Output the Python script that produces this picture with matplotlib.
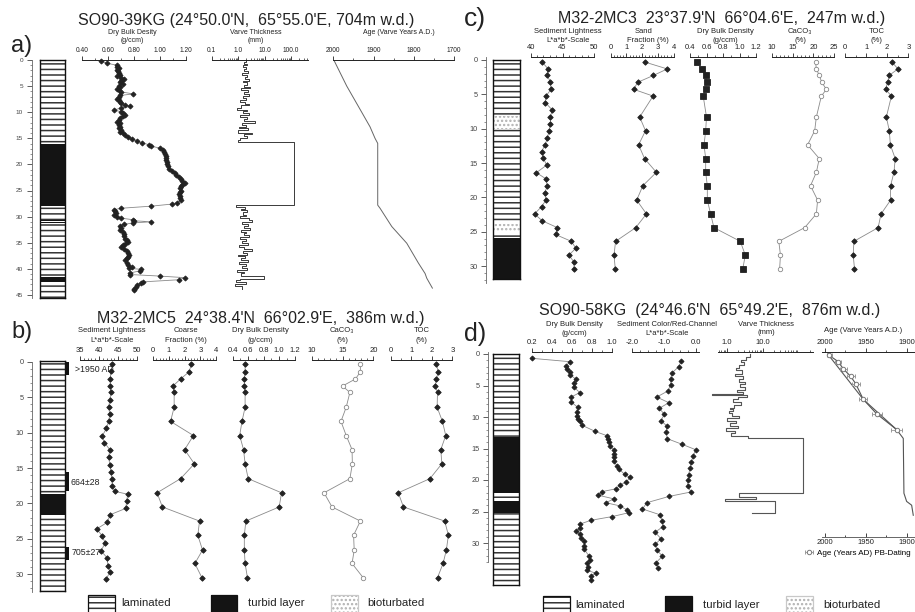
import numpy as np
import matplotlib
matplotlib.use("Agg")
import matplotlib.pyplot as plt
from matplotlib.patches import Rectangle
from matplotlib.ticker import MultipleLocator, LogLocator, NullFormatter
from matplotlib.transforms import blended_transform_factory

plt.rcParams['font.family'] = ['Liberation Sans', 'DejaVu Sans']
plt.rcParams['hatch.linewidth'] = 1.1

W, H = 915, 612
INK = '#222222'
LINE = '#8a8a8a'

# ---------------- a) SO90-39KG ----------------
a_dbd_depth = [0.19, 0.64, 1.0, 1.3, 1.6, 1.9, 2.2, 2.5, 2.8, 3.1, 3.4, 3.7, 4.0, 4.3, 4.6, 4.9,
               5.2, 5.5, 5.8, 6.1, 6.5, 6.8, 7.1, 7.4, 7.7, 8.0, 8.3, 8.6, 8.9, 9.2, 9.6, 9.9,
               10.2, 10.5, 10.8, 11.1, 11.5, 11.8, 12.1, 12.4, 12.8, 13.1, 13.4, 13.7, 14.0,
               14.4, 14.8, 15.1, 15.5, 15.9, 16.2, 16.5, 16.9, 17.2, 17.6, 18.0, 18.4, 18.8,
               19.2, 19.6, 20.0, 20.4, 20.8, 21.2, 21.6, 22.0, 22.4, 22.8, 23.2, 23.5, 23.9,
               24.2, 24.6, 25.0, 25.3, 25.7, 26.1, 26.5, 26.9, 27.3, 27.6, 28.0, 28.4, 28.7,
               29.0, 29.3, 29.7, 30.0, 30.3, 30.6, 30.8, 31.0, 31.2, 31.5, 31.8, 32.2, 32.6,
               33.0, 33.4, 33.8, 34.2, 34.5, 34.8, 35.2, 35.5, 35.9, 36.3, 36.6, 36.9, 37.3,
               37.7, 38.0, 38.4, 38.8, 39.2, 39.6, 39.9, 40.1, 40.4, 40.8, 41.1, 41.4, 41.7,
               42.1, 42.5, 42.8, 43.1, 43.4, 43.8, 44.1]
a_dbd = [0.54, 0.59, 0.67, 0.665, 0.68, 0.67, 0.675, 0.68, 0.69, 0.67, 0.70, 0.72, 0.70, 0.69,
         0.71, 0.68, 0.69, 0.67, 0.68, 0.70, 0.79, 0.69, 0.68, 0.67, 0.68, 0.69, 0.70, 0.73,
         0.77, 0.70, 0.64, 0.70, 0.71, 0.73, 0.71, 0.69, 0.68, 0.67, 0.69, 0.68, 0.69, 0.68,
         0.70, 0.69, 0.71, 0.73, 0.75, 0.78, 0.82, 0.86, 0.91, 0.93, 1.00, 1.02, 1.03, 1.035,
         1.04, 1.045, 1.04, 1.05, 1.05, 1.06, 1.07, 1.09, 1.11, 1.12, 1.14, 1.16, 1.17, 1.19,
         1.17, 1.16, 1.155, 1.16, 1.15, 1.14, 1.155, 1.15, 1.16, 1.13, 1.09, 0.93, 0.70, 0.64,
         0.65, 0.66, 0.64, 0.67, 0.70, 0.79, 0.80, 0.93, 0.79, 0.72, 0.69, 0.70, 0.69, 0.71,
         0.72, 0.72, 0.73, 0.74, 0.75, 0.73, 0.71, 0.70, 0.72, 0.74, 0.75, 0.76, 0.755, 0.74,
         0.73, 0.74, 0.75, 0.78, 0.76, 0.85, 0.84, 0.77, 0.77, 1.00, 1.19, 1.14, 0.87, 0.85,
         0.82, 0.81, 0.80, 0.80]

# varve thickness as step intervals: bounds (cm) and thickness (mm)
a_varve_bounds = [0.0, 0.3, 0.7, 1.0, 1.4, 1.8, 2.1, 2.5, 2.9, 3.2, 3.6, 4.0, 4.3, 4.7, 5.1, 5.4,
                  5.8, 6.2, 6.5, 6.9, 7.3, 7.6, 8.0, 8.4, 8.7, 9.1, 9.5, 9.8, 10.2, 10.6, 10.9,
                  11.3, 11.7, 12.0, 12.4, 12.8, 13.1, 13.5, 13.9, 14.2, 14.6, 15.0, 15.3, 15.8,
                  27.8, 28.1, 28.5, 28.8, 29.2, 29.6, 29.9, 30.3, 30.7, 31.0, 31.4, 31.8, 32.1,
                  32.5, 32.9, 33.2, 33.6, 34.0, 34.3, 34.7, 35.1, 35.4, 35.8, 36.2, 36.5, 36.9,
                  37.3, 37.6, 38.0, 38.4, 38.7, 39.1, 39.5, 39.8, 40.2, 40.6, 40.9, 41.3, 41.9,
                  42.2, 42.6, 42.9, 43.3, 43.8]
a_varve_mm = [1.9, 1.6, 2.2, 1.5, 2.0, 1.7, 2.4, 1.4, 2.1, 1.8, 2.6, 1.5, 2.2, 1.6, 2.8, 1.3,
              2.3, 1.7, 2.5, 1.5, 2.0, 1.2, 1.8, 2.6, 1.3, 0.92, 2.1, 1.5, 2.5, 1.2, 2.2, 1.6,
              4.3, 1.4, 2.0, 1.1, 2.4, 0.95, 3.3, 1.6, 2.2, 1.2, 0.95,
              133.0,
              0.85, 1.8, 1.3, 2.2, 1.5, 1.9, 1.2, 2.6, 3.4, 1.4, 2.3, 1.6, 2.9, 1.3, 2.0, 1.6,
              2.5, 1.2, 1.9, 1.4, 2.3, 1.1, 1.7, 3.4, 1.5, 2.1, 1.0, 1.8, 1.3, 2.4, 1.1, 1.9,
              1.4, 2.2, 0.9, 1.7, 1.3, 9.3, 1.2, 0.8, 1.9, 0.75, 1.4]

a_age_depth = [0.19, 4.98, 10.0, 12.8, 15.0, 15.97, 27.8, 28.4, 31.9, 35.1, 38.9, 40.9, 41.8, 43.7]
a_age_year = [1997.5, 1966.7, 1929.4, 1908.7, 1896.3, 1889.6, 1889.6, 1883.8, 1854.7, 1817.4,
              1788.5, 1771.9, 1767.7, 1753.7]

a_litho = [(0.0, 16.0, 'lam'), (16.0, 27.9, 'turb'), (27.9, 30.6, 'lam'), (30.6, 30.85, 'turb'),
           (30.85, 31.0, 'lam'), (31.0, 31.25, 'turb'), (31.25, 41.5, 'lam'),
           (41.5, 42.5, 'turb'), (42.5, 45.6, 'lam')]

# ---------------- b) M32-2MC5 ----------------
b_l_depth = [0.33, 1.3, 2.4, 3.4, 4.3, 5.4, 6.4, 7.4, 8.4, 9.4, 10.5, 11.4, 12.4, 13.5, 14.5,
             15.5, 16.6, 17.6, 18.3, 18.7, 19.7, 20.7, 21.6, 22.7, 23.6, 24.6, 25.6, 26.7,
             27.7, 28.8, 29.7, 30.7]
b_lightness = [43.5, 43.1, 42.9, 42.9, 43.1, 42.8, 42.5, 42.8, 42.5, 41.9, 40.8, 41.4, 42.8,
               42.5, 42.8, 43.1, 43.3, 43.5, 44.1, 47.5, 47.2, 47.0, 42.9, 42.1, 39.4, 40.8,
               41.6, 40.5, 42.1, 42.3, 42.9, 41.8]
b_depth = [0.33, 1.4, 2.4, 3.4, 4.3, 6.4, 8.4, 10.4, 12.4, 14.4, 16.5, 18.5, 20.5, 22.5, 24.5,
           26.6, 28.5, 30.5]
b_coarse = [2.43, 2.28, 1.74, 1.25, 1.33, 1.33, 1.1, 2.56, 2.0, 2.62, 1.74, 0.24, 0.58, 2.95,
            2.84, 3.14, 2.65, 3.1]
b_dbd = [0.56, 0.56, 0.55, 0.55, 0.56, 0.56, 0.52, 0.49, 0.54, 0.56, 0.60, 1.03, 1.00, 0.57,
         0.55, 0.55, 0.56, 0.59]
b_caco3 = [17.9, 17.9, 17.1, 15.0, 16.2, 15.6, 14.75, 15.6, 16.55, 16.6, 16.2, 12.0, 13.3,
           17.9, 16.8, 16.9, 16.55, 18.35]
b_toc = [2.23, 2.31, 2.23, 2.17, 2.28, 2.26, 2.52, 2.68, 2.44, 2.49, 1.91, 0.37, 0.62, 2.63,
         2.81, 2.71, 2.55, 2.28]
b_litho = [(0.0, 18.7, 'lam'), (18.7, 21.7, 'turb'), (21.7, 32.5, 'lam')]
b_dates = [(0.0, 1.9, 1.0, '>1950 AD'), (15.6, 18.3, 17.1, '664±28'), (26.1, 28.0, 27.0, '705±27')]

# ---------------- c) M32-2MC3 ----------------
c_l_depth = [0.29, 1.26, 2.2, 3.25, 4.27, 5.24, 6.2, 7.28, 8.25, 9.27, 10.33, 11.35, 12.3,
             13.34, 14.3, 15.3, 16.4, 17.3, 18.3, 19.4, 20.4, 21.35, 22.4, 23.4, 24.4, 25.4,
             26.4, 27.4, 28.4, 29.4, 30.4]
c_lightness = [41.8, 42.7, 42.6, 43.1, 43.2, 42.4, 42.3, 43.4, 43.1, 43.1, 42.9, 42.6, 42.3,
               41.7, 42.0, 42.5, 40.9, 42.4, 42.6, 42.2, 42.4, 41.7, 40.6, 41.8, 44.2, 43.9,
               46.4, 47.1, 46.0, 46.8, 46.8]
c_depth = [0.3, 1.3, 2.25, 3.25, 4.27, 5.25, 8.3, 10.3, 12.35, 14.35, 16.35, 18.3, 20.4, 22.4,
           24.4, 26.4, 28.4, 30.4]
c_sand = [2.17, 3.59, 2.71, 1.71, 1.46, 2.69, 1.84, 2.21, 1.77, 2.15, 2.9, 2.04, 1.65, 2.27,
          1.59, 0.31, 0.21, 0.29]
c_dbd = [0.48, 0.54, 0.59, 0.60, 0.59, 0.56, 0.60, 0.59, 0.57, 0.59, 0.59, 0.61, 0.61, 0.65,
         0.69, 1.01, 1.07, 1.04]
c_caco3 = [20.5, 20.7, 21.4, 22.0, 23.1, 21.9, 20.7, 20.3, 18.6, 21.4, 20.7, 19.3, 21.0, 20.7,
           17.9, 11.7, 12.1, 11.9]
c_toc = [2.23, 2.51, 2.09, 2.02, 1.92, 2.2, 1.96, 2.10, 2.15, 2.38, 2.32, 2.16, 2.16, 1.71,
         1.57, 0.42, 0.39, 0.45]
c_litho = [(0.0, 8.1, 'lam'), (8.1, 10.0, 'bio'), (10.0, 23.9, 'lam'), (23.9, 25.0, 'bio'),
           (25.0, 25.9, 'lam'), (25.9, 32.0, 'turb')]

# ---------------- d) SO90-58KG ----------------
d_dbd_depth = [0.69, 1.22, 1.9, 2.38, 2.9, 3.33, 3.97, 4.55, 5.19, 6.14, 6.83, 7.62, 8.46, 9.16,
               9.84, 10.3, 10.7, 11.3, 12.3, 12.97, 13.5, 14.0, 14.6, 15.2, 15.8, 16.4, 17.0,
               17.7, 18.2, 19.1, 19.6, 20.3, 20.8, 21.4, 21.86, 22.4, 23.0, 23.6, 24.1, 24.7,
               25.2, 25.8, 26.4, 27.0, 27.6, 28.1, 28.6, 29.2, 29.7, 30.4, 31.0, 32.0, 32.7,
               33.2, 33.8, 34.3, 34.8, 35.2, 35.8]
d_dbd = [0.2, 0.577, 0.54, 0.547, 0.58, 0.583, 0.637, 0.617, 0.617, 0.678, 0.59, 0.593, 0.657,
         0.647, 0.647, 0.657, 0.678, 0.70, 0.835, 0.953, 0.966, 0.976, 0.98, 1.023, 1.023,
         1.023, 1.023, 1.05, 1.07, 1.13, 1.185, 1.147, 1.084, 1.04, 0.9, 0.86, 1.023, 0.94,
         1.08, 1.15, 1.17, 1.006, 0.79, 0.68, 0.684, 0.643, 0.678, 0.694, 0.724, 0.724, 0.724,
         0.768, 0.778, 0.754, 0.764, 0.748, 0.839, 0.79, 0.79]
d_col_depth = [1.16, 2.0, 3.07, 4.02, 4.87, 5.87, 6.83, 7.73, 8.62, 9.58, 10.58, 11.43, 12.4,
               13.44, 14.3, 15.2, 16.2, 17.2, 18.1, 19.2, 20.0, 20.9, 21.9, 22.6, 23.6, 24.6,
               25.5, 26.5, 27.4, 28.3, 29.3, 30.2, 31.1, 32.1, 33.1, 34.0]
d_color = [-0.46, -0.54, -0.76, -0.79, -0.79, -0.88, -1.23, -0.85, -1.15, -0.99, -1.10, -0.91,
           -0.93, -0.90, -0.45, 0.0, -0.09, -0.14, -0.18, -0.23, -0.25, -0.26, -0.15, -0.84,
           -1.54, -1.68, -1.14, -1.05, -1.04, -1.28, -1.10, -1.27, -1.23, -1.05, -1.25, -1.18]
d_varve_bounds = [0.0, 0.5, 0.9, 1.3, 1.8, 2.2, 2.6, 3.1, 3.5, 3.9, 4.4, 4.8, 5.2, 5.7, 6.1,
                  6.3, 6.5, 6.8, 7.2, 7.6, 8.1, 8.5, 8.8, 9.1, 9.4, 9.8, 10.2, 10.6, 11.0, 11.4,
                  11.8, 12.2, 12.6, 13.0, 13.4, 22.1, 22.75, 23.07, 23.4, 25.3, 25.3]
d_varve_mm = [4.4, 3.3, 2.5, 3.0, 2.2, 1.8, 2.6, 1.7, 2.8, 2.1, 3.1, 2.3, 3.2, 1.9, 2.7, 0.37,
              3.5, 2.0, 1.5, 2.4, 1.6, 1.2, 1.5, 1.1, 1.4, 2.1, 1.0, 1.8, 1.2, 2.0, 0.95, 1.7,
              1.3, 3.9, 128.0, 2.2, 6.3, 0.88, 21.5, 5.0]
d_age_depth = [0.0, 7.2, 12.0, 13.4, 22.1, 23.4, 24.0, 25.6]
d_age_year = [1996.7, 1953.3, 1912.6, 1904.5, 1903.7, 1900.4, 1894.3, 1892.3]
d_pb_depth = [0.2, 1.2, 2.35, 3.55, 4.7, 7.2, 9.5, 12.0]
d_pb_year = [1995.0, 1984.0, 1977.7, 1968.7, 1962.6, 1953.3, 1937.0, 1912.6]
d_pb_err = [3, 4, 4, 5, 5, 5, 6, 7]
d_litho = [(0.0, 13.1, 'lam'), (13.1, 22.1, 'turb'), (22.1, 23.4, 'lam'), (23.4, 25.3, 'turb'),
           (25.3, 36.8, 'lam')]

titles = {'a': "SO90-39KG (24°50.0'N,  65°55.0'E, 704m w.d.)",
          'b': "M32-2MC5  24°38.4'N  66°02.9'E,  386m w.d.)",
          'c': "M32-2MC3  23°37.9'N  66°04.6'E,  247m w.d.)",
          'd': "SO90-58KG  (24°46.6'N  65°49.2'E,  876m w.d.)"}
legend_names = ['laminated', 'turbid layer', 'bioturbated']

# ---------------- layout helpers ----------------
fig = plt.figure(figsize=(W / 100, H / 100), dpi=100)

A = dict(zero=60, k=5.22, top=60, bottom=298)
B = dict(zero=362, k=7.07, top=360, bottom=592)
C = dict(zero=60, k=6.87, top=57, bottom=285)
D = dict(zero=354, k=6.3, top=352, bottom=590)

STYLES = {'lam': dict(facecolor='white', edgecolor='#333333', hatch='---', lw=0),
          'turb': dict(facecolor='#141414', edgecolor='#141414', lw=0),
          'bio': dict(facecolor='white', edgecolor='#b0b0b0', hatch='....', lw=0)}


def box(x0, x1, y0, y1):
    return fig.add_axes([x0 / W, 1 - y1 / H, (x1 - x0) / W, (y1 - y0) / H])


def set_depth(ax, core, y0, y1):
    ax.set_ylim((y1 - core['zero']) / core['k'], (y0 - core['zero']) / core['k'])


def bare(ax):
    ax.patch.set_visible(False)
    for s in ax.spines.values():
        s.set_visible(False)


def track(core, x0, x1, xlim, ticks, labels, minor, log=False, size=5.5, y1=None):
    y1 = core['bottom'] if y1 is None else y1
    ax = box(x0, x1, core['top'], y1)
    set_depth(ax, core, core['top'], y1)
    if log:
        ax.set_xscale('log')
    ax.set_xlim(*xlim)
    bare(ax)
    ax.spines['top'].set_visible(True)
    ax.spines['top'].set_color(INK)
    ax.spines['top'].set_linewidth(0.7)
    ax.xaxis.tick_top()
    ax.set_xticks(ticks, labels)
    if log:
        ax.xaxis.set_minor_locator(LogLocator(base=10, subs=np.arange(2, 10), numticks=50))
    else:
        ax.xaxis.set_minor_locator(MultipleLocator(minor))
    ax.xaxis.set_minor_formatter(NullFormatter())
    ax.tick_params(axis='x', which='major', direction='out', length=2.8, width=0.6, pad=1.2,
                   labelsize=size, colors=INK)
    ax.tick_params(axis='x', which='minor', direction='out', length=1.6, width=0.5, colors=INK)
    ax.set_yticks([])
    return ax


def dots(ax, x, y, marker='D', ms=2.8, mfc=INK, mec=INK):
    ax.plot(x, y, color=LINE, lw=0.6, marker=marker, ms=ms, mfc=mfc, mec=mec, mew=0.6,
            clip_on=False)


def steps(ax, bounds, vals, color='#444444', lw=0.7):
    xs, ys = [], []
    for i, v in enumerate(vals):
        xs += [v, v]
        ys += [bounds[i], bounds[i + 1]]
    ax.plot(xs, ys, color=color, lw=lw, clip_on=False)


def depth_axis(core, x, y0, y1, maxd, size):
    ax = box(x, x + 1, y0, y1)
    set_depth(ax, core, y0, y1)
    bare(ax)
    ax.spines['left'].set_visible(True)
    ax.spines['left'].set_color('#666666')
    ax.spines['left'].set_linewidth(0.6)
    ax.set_xticks([])
    ticks = list(range(0, maxd + 1, 5))
    ax.set_yticks(ticks, [str(t) for t in ticks])
    ax.yaxis.set_minor_locator(MultipleLocator(1))
    ax.tick_params(axis='y', which='major', length=3.6, width=0.6, pad=2.5, labelsize=size,
                   colors='#444444')
    ax.tick_params(axis='y', which='minor', length=1.8, width=0.5, colors='#666666')


def litho(core, x0, x1, y0, y1, layers):
    ax = box(x0, x1, y0, y1)
    set_depth(ax, core, y0, y1)
    ax.set_xlim(0, 1)
    for top, bot, kind in layers:
        ax.axhspan(top, bot, **STYLES[kind])
    ax.set_xticks([])
    ax.set_yticks([])
    for s in ax.spines.values():
        s.set_color('#111111')
        s.set_linewidth(1.0)
    return ax


def label(x, y, s, size=5.5, **kw):
    fig.text(x / W, 1 - y / H, s, ha='center', va='center', fontsize=size, color=INK, **kw)


def legend_row(xs, y0, y1):
    kinds = ['lam', 'turb', 'bio']
    for (bx0, bx1, tx), kind, name in zip(xs, kinds, legend_names):
        st = dict(STYLES[kind])
        st.pop('lw')
        r = Rectangle((bx0 / W, 1 - y1 / H), (bx1 - bx0) / W, (y1 - y0) / H,
                      transform=fig.transFigure, lw=0, **st)
        fig.add_artist(r)
        edge = '#111111' if kind != 'bio' else '#c8c8c8'
        fig.add_artist(Rectangle((bx0 / W, 1 - y1 / H), (bx1 - bx0) / W, (y1 - y0) / H,
                                 transform=fig.transFigure, fill=False, lw=0.9,
                                 edgecolor=edge))
        fig.text(tx / W, 1 - (y0 + 8.5) / H, name, ha='left', va='center', fontsize=8.2,
                 color=INK)


# ---------------- panel a ----------------
fig.text(22 / W, 1 - 46 / H, 'a)', ha='center', va='center', fontsize=17, color=INK)
label(246, 20, titles['a'], size=11.5)
depth_axis(A, 31.7, 60, 298, 45, 4.6)
litho(A, 40, 65, 60, 298, a_litho)

ax = track(A, 82.3, 186.3, (0.4, 1.2), [0.4, 0.6, 0.8, 1.0, 1.2],
           ['0.40', '0.60', '0.80', '1.00', '1.20'], 0.1, size=4.8)
dots(ax, a_dbd, a_dbd_depth, ms=2.6)
label(132.5, 32, 'Dry Bulk Desity', 5)
label(132.5, 41, '(g/ccm)', 5)

ax = track(A, 211.7, 308.3, (0.1, 442), [0.1, 1, 10, 100], ['0.1', '1.0', '10.0', '100.0'],
           None, log=True, size=4.8)
steps(ax, a_varve_bounds, a_varve_mm, color='#3a3a3a', lw=0.7)
label(255.5, 32, 'Varve Thickness', 5)
label(255.5, 40.5, '(mm)', 5)

ax = track(A, 333.3, 454, (2000, 1700), [2000, 1900, 1800, 1700],
           ['2000', '1900', '1800', '1700'], 50, size=4.8)
ax.plot(a_age_year, a_age_depth, color='#666666', lw=0.7)
label(399, 32, 'Age (Varve Years A.D.)', 5)

# ---------------- panel b ----------------
fig.text(22 / W, 1 - 332 / H, 'b)', ha='center', va='center', fontsize=17, color=INK)
label(261, 319, titles['b'], size=11.5)
depth_axis(B, 32, 362, 592, 30, 5.3)
litho(B, 40, 65, 361, 591, b_litho)
tab = box(65, 69.3, 361, 591)
set_depth(tab, B, 361, 591)
bare(tab)
tab.set_xticks([])
tab.set_yticks([])
tr = blended_transform_factory(fig.transFigure, tab.transData)
for (top, bot, mid, txt), tx in zip(b_dates, [75, 70.7, 71.5]):
    tab.axhspan(top, bot, color='#111111', lw=0)
    tab.text(tx / W, mid, txt, transform=tr, ha='left', va='center', fontsize=6.3,
             color=INK)

ax = track(B, 80, 137.3, (35, 50), [35, 40, 45, 50], ['35', '40', '45', '50'], 1)
dots(ax, b_lightness, b_l_depth)
label(111.7, 330.7, 'Sediment Lightness')
label(111.7, 340.7, 'L*a*b*-Scale')

ax = track(B, 153.3, 216, (0, 4), [0, 1, 2, 3, 4], ['0', '1', '2', '3', '4'], 0.2)
dots(ax, b_coarse, b_depth)
label(186, 330.7, 'Coarse')
label(186, 340.7, 'Fraction (%)')

ax = track(B, 232.7, 294.7, (0.4, 1.2), [0.4, 0.6, 0.8, 1.0, 1.2],
           ['0.4', '0.6', '0.8', '1.0', '1.2'], 0.1)
dots(ax, b_dbd, b_depth)
label(260.5, 330.7, 'Dry Bulk Density')
label(260.5, 340.7, '(g/ccm)')

ax = track(B, 311.7, 373.3, (10, 20), [10, 15, 20], ['10', '15', '20'], 1)
dots(ax, b_caco3, b_depth, marker='o', ms=3.2, mfc='white', mec='#888888')
label(342, 330.7, 'CaCO₃')
label(342, 340.7, '(%)')

ax = track(B, 390.7, 452.3, (0, 3), [0, 1, 2, 3], ['0', '1', '2', '3'], 0.5)
dots(ax, b_toc, b_depth)
label(421.7, 330.7, 'TOC')
label(421.7, 340.7, '(%)')

# ---------------- panel c ----------------
fig.text(475 / W, 1 - 19 / H, 'c)', ha='center', va='center', fontsize=19, color=INK)
label(722, 19, titles['c'], size=11.5)
depth_axis(C, 486, 57, 283, 30, 5.3)
litho(C, 493, 520, 60, 279, c_litho)

ax = track(C, 530.7, 594.3, (40, 50), [40, 45, 50], ['40', '45', '50'], 1)
dots(ax, c_lightness, c_l_depth)
label(568, 31.7, 'Sediment Lightness')
label(568, 40.3, 'L*a*b*-Scale')

ax = track(C, 610.7, 673.7, (0, 4), [0, 1, 2, 3, 4], ['0', '1', '2', '3', '4'], 0.2)
dots(ax, c_sand, c_depth)
label(644, 31.7, 'Sand')
label(648, 40.3, 'Fraction (%)')

ax = track(C, 690, 756, (0.4, 1.2), [0.4, 0.6, 0.8, 1.0, 1.2],
           ['0.4', '0.6', '0.8', '1.0', '1.2'], 0.1)
dots(ax, c_dbd, c_depth, marker='s', ms=4.2)
label(725, 31.7, 'Dry Bulk Density')
label(725, 40.3, '(g/ccm)')

ax = track(C, 771.7, 834.3, (10, 25), [10, 15, 20, 25], ['10', '15', '20', '25'], 1)
dots(ax, c_caco3, c_depth, marker='o', ms=3.2, mfc='white', mec='#888888')
label(800, 31.7, 'CaCO₃')
label(800, 40.3, '(%)')

ax = track(C, 845, 908.3, (0, 3), [0, 1, 2, 3], ['0', '1', '2', '3'], 0.5)
dots(ax, c_toc, c_depth)
label(876.7, 31.7, 'TOC')
label(876.7, 40.3, '(%)')

# ---------------- panel d ----------------
fig.text(475 / W, 1 - 334 / H, 'd)', ha='center', va='center', fontsize=18, color=INK)
label(710, 311, titles['d'], size=11.5)
depth_axis(D, 488, 352, 562, 30, 5.3)
litho(D, 493, 519, 354, 585, d_litho)

ax = track(D, 532.3, 611.7, (0.2, 1.0), [0.2, 0.4, 0.6, 0.8, 1.0],
           ['0.2', '0.4', '0.6', '0.8', '1.0'], 0.1)
dots(ax, d_dbd, d_dbd_depth, ms=2.6)
label(574, 324, 'Dry Bulk Density')
label(574, 333.3, '(g/ccm)')

ax = track(D, 632.3, 699, (-2.0, 0.1), [-2.0, -1.0, 0.0], ['-2.0', '-1.0', '0.0'], 0.25)
dots(ax, d_color, d_col_depth, ms=2.6)
label(666.7, 324, 'Sediment Color/Red-Channel')
label(666.7, 333.3, 'L*a*b*-Scale')

ax = track(D, 718, 813, (0.56, 245), [1, 10], ['1.0', '10.0'], None, log=True)
steps(ax, d_varve_bounds, d_varve_mm, color='#555555', lw=0.8)
label(766, 324, 'Varve Thickness')
label(766, 332.3, '(mm)')

ax = track(D, 821.7, 915, (2004.0, 1890.2), [2000, 1950, 1900], ['2000', '1950', '1900'],
           25, y1=537)
ax.spines['bottom'].set_visible(True)
ax.spines['bottom'].set_color('#666666')
ax.spines['bottom'].set_linewidth(0.7)
ax.plot(d_age_year, d_age_depth, color='#555555', lw=0.8)
ax.plot(d_pb_year, d_pb_depth, color='#555555', lw=0.8)
eb = ax.errorbar(d_pb_year, d_pb_depth, xerr=d_pb_err, fmt='o', ms=3.2, mfc='white',
                 mec='#777777', mew=0.7, ecolor='#999999', elinewidth=0.6, capsize=1.5)
sec = ax.secondary_xaxis('bottom')
sec.set_xticks([2000, 1950, 1900], ['2000', '1950', '1900'])
sec.xaxis.set_minor_locator(MultipleLocator(25))
sec.tick_params(axis='x', which='major', direction='in', length=2.8, width=0.6, pad=1.5,
                labelsize=5.5, colors=INK)
sec.tick_params(axis='x', which='minor', direction='in', length=1.6, width=0.5)
sec.spines['bottom'].set_visible(False)
label(863.3, 330.7, 'Age (Varve Years A.D.)')
ax.legend([eb], ['Age (Years AD) PB-Dating'], loc='center left', frameon=False,
          bbox_to_anchor=(804 / W, 1 - 553 / H), bbox_transform=fig.transFigure,
          fontsize=5.8, handlelength=1.3, handletextpad=0.3, borderpad=0, borderaxespad=0)

# ---------------- legends ----------------
legend_row([(88.3, 115, 121), (210.7, 236.7, 248), (331, 357.7, 367.7)], 595, 614)
legend_row([(543.3, 570, 575), (665, 691.7, 703.3), (786, 812.7, 823.3)], 596, 614)

fig.savefig('out.png', dpi=100)
